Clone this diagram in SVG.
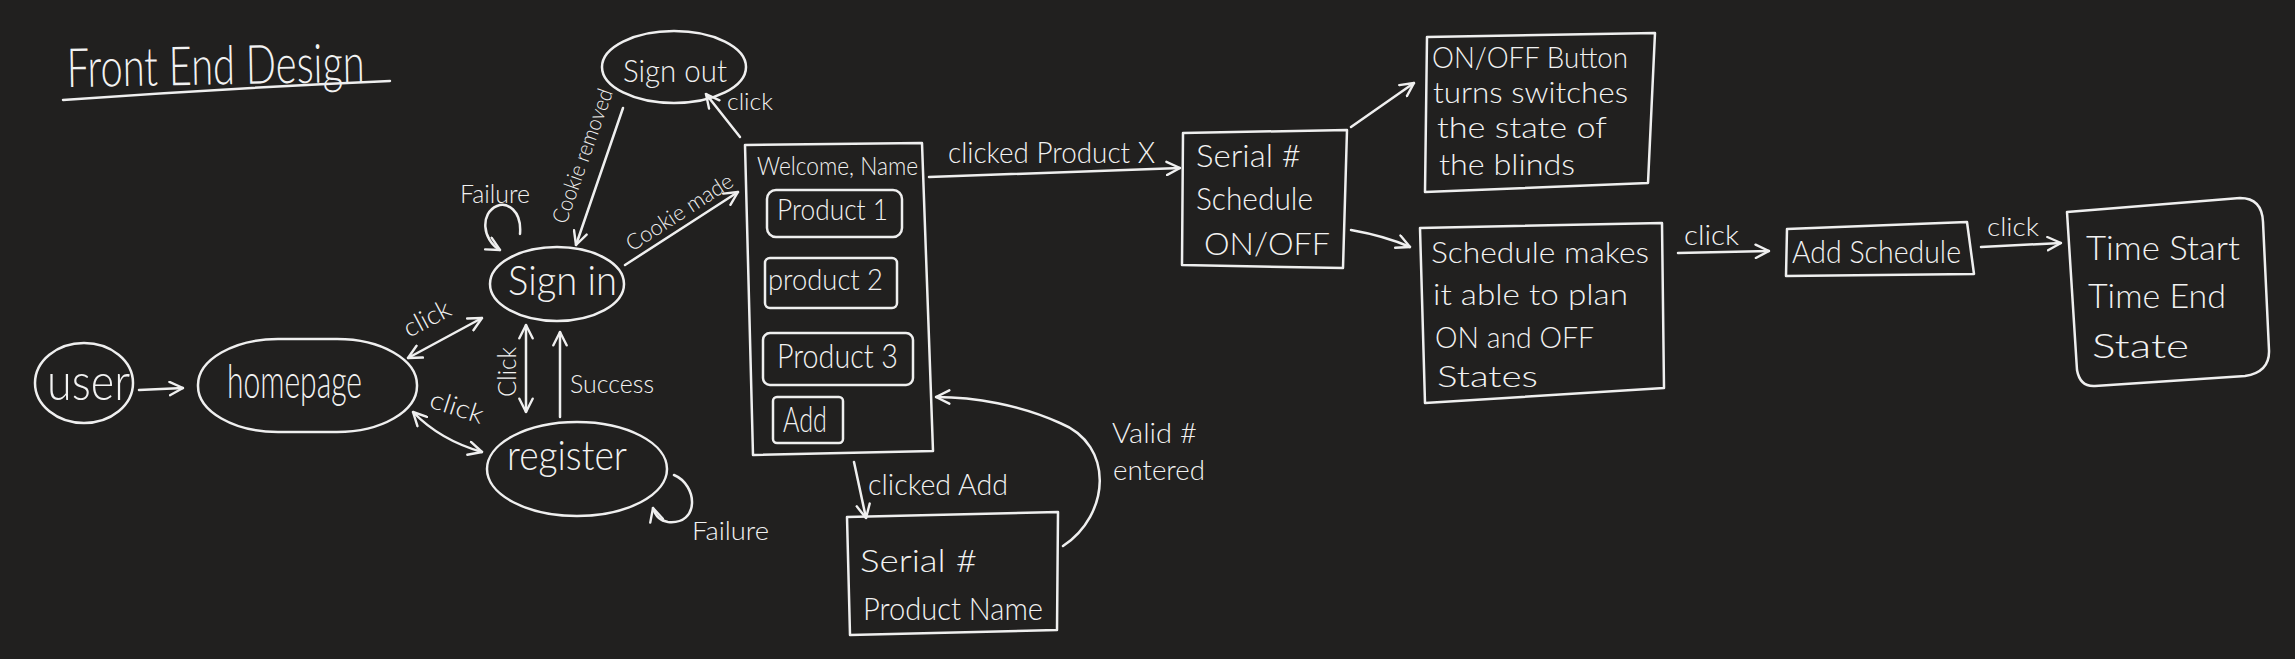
<svg xmlns="http://www.w3.org/2000/svg" width="2295" height="659" viewBox="0 0 2295 659">
<defs>
<style>
.bg{fill:#21201f}
.s{fill:none;stroke:#efefef;stroke-width:2.5;stroke-linecap:round;stroke-linejoin:round}
text{fill:#f2f2f2;font-family:Lato,"Liberation Sans",sans-serif;font-weight:300}
.c path{fill:none;stroke:#efefef;stroke-width:2.5;stroke-linecap:round}
</style>
<marker id="a" viewBox="0 0 12 12" refX="11" refY="6" markerWidth="16" markerHeight="16" markerUnits="userSpaceOnUse" orient="auto-start-reverse">
<path d="M1,1 L11,6 L1,11" fill="none" stroke="#efefef" stroke-width="1.8" stroke-linecap="round" stroke-linejoin="round"/>
</marker>
</defs>
<rect class="bg" x="0" y="0" width="2295" height="659"/>

<g id="title">
<text transform="translate(67,87) rotate(-1)" font-size="54" textLength="298" lengthAdjust="spacingAndGlyphs">Front End Design</text>
<path class="s" d="M63,100 Q230,88 390,81"/>
</g>

<g id="user">
<ellipse class="s" cx="84" cy="383" rx="49" ry="40"/>
<text x="47" y="400" font-size="52" textLength="83" lengthAdjust="spacingAndGlyphs">user</text>
</g>

<g id="homepage">
<rect class="s" x="198" y="339" width="219" height="93" rx="80" ry="46"/>
<text x="227" y="398" font-size="48" textLength="135" lengthAdjust="spacingAndGlyphs">homepage</text>
</g>

<g id="signin">
<ellipse class="s" cx="557" cy="284" rx="67" ry="37"/>
<text x="508" y="295" font-size="41" textLength="109" lengthAdjust="spacingAndGlyphs">Sign in</text>
</g>

<g id="signout">
<ellipse class="s" cx="674" cy="67" rx="72" ry="36"/>
<text x="623" y="82" font-size="31" textLength="104" lengthAdjust="spacingAndGlyphs">Sign out</text>
</g>

<g id="register">
<ellipse class="s" cx="577" cy="469" rx="90" ry="47"/>
<text x="507" y="470" font-size="42" textLength="120" lengthAdjust="spacingAndGlyphs">register</text>
</g>

<g id="welcome">
<polygon class="s" points="745,145 922,143 933,451 753,455"/>
<text x="757" y="175" font-size="25" textLength="161" lengthAdjust="spacingAndGlyphs">Welcome, Name</text>
<rect class="s" x="767" y="190" width="135" height="47" rx="9"/>
<text x="777" y="220" font-size="30" textLength="111" lengthAdjust="spacingAndGlyphs">Product 1</text>
<rect class="s" x="765" y="258" width="132" height="50" rx="5"/>
<text x="768" y="290" font-size="30" textLength="115" lengthAdjust="spacingAndGlyphs">product 2</text>
<rect class="s" x="763" y="333" width="150" height="52" rx="7"/>
<text x="777" y="368" font-size="33" textLength="121" lengthAdjust="spacingAndGlyphs">Product 3</text>
<rect class="s" x="773" y="397" width="70" height="46" rx="4"/>
<text x="783" y="432" font-size="35" textLength="44" lengthAdjust="spacingAndGlyphs">Add</text>
</g>

<g id="product">
<polygon class="s" points="1183,133 1347,130 1343,268 1182,265"/>
<text x="1196" y="167" font-size="32" textLength="105" lengthAdjust="spacingAndGlyphs">Serial #</text>
<text x="1196" y="210" font-size="32" textLength="117" lengthAdjust="spacingAndGlyphs">Schedule</text>
<text x="1204" y="255" font-size="32" textLength="126" lengthAdjust="spacingAndGlyphs">ON/OFF</text>
</g>

<g id="onoff">
<polygon class="s" points="1427,37 1655,33 1648,183 1425,192"/>
<text x="1432" y="68" font-size="30" textLength="196" lengthAdjust="spacingAndGlyphs">ON/OFF Button</text>
<text x="1433" y="103" font-size="30" textLength="195" lengthAdjust="spacingAndGlyphs">turns switches</text>
<text x="1437" y="138" font-size="30" textLength="170" lengthAdjust="spacingAndGlyphs">the state of</text>
<text x="1439" y="175" font-size="30" textLength="136" lengthAdjust="spacingAndGlyphs">the blinds</text>
</g>

<g id="schedule">
<polygon class="s" points="1420,228 1662,223 1664,388 1425,403"/>
<text x="1431" y="263" font-size="30" textLength="218" lengthAdjust="spacingAndGlyphs">Schedule makes</text>
<text x="1433" y="305" font-size="30" textLength="195" lengthAdjust="spacingAndGlyphs">it able to plan</text>
<text x="1435" y="348" font-size="30" textLength="159" lengthAdjust="spacingAndGlyphs">ON and OFF</text>
<text x="1437" y="387" font-size="30" textLength="101" lengthAdjust="spacingAndGlyphs">States</text>
</g>

<g id="addschedule">
<polygon class="s" points="1787,229 1967,222 1974,274 1786,276"/>
<text x="1792" y="263" font-size="32" textLength="169" lengthAdjust="spacingAndGlyphs">Add Schedule</text>
</g>

<g id="time">
<path class="s" d="M2067,212 L2240,198 Q2262,198 2263,222 L2269,350 Q2270,372 2245,376 L2095,386 Q2080,387 2077,370 Z"/>
<text x="2086" y="260" font-size="34" textLength="154" lengthAdjust="spacingAndGlyphs">Time Start</text>
<text x="2088" y="308" font-size="34" textLength="138" lengthAdjust="spacingAndGlyphs">Time End</text>
<text x="2092" y="358" font-size="34" textLength="97" lengthAdjust="spacingAndGlyphs">State</text>
</g>

<g id="addform">
<polygon class="s" points="847,517 1058,512 1057,630 850,635"/>
<text x="860" y="572" font-size="32" textLength="117" lengthAdjust="spacingAndGlyphs">Serial #</text>
<text x="863" y="620" font-size="32" textLength="180" lengthAdjust="spacingAndGlyphs">Product Name</text>
</g>

<g id="connectors" class="c">
<path d="M139,390 L183,388" marker-end="url(#a)"/>
<path d="M408,358 L482,318" marker-start="url(#a)" marker-end="url(#a)"/>
<path d="M413,412 Q440,440 482,452" marker-start="url(#a)" marker-end="url(#a)"/>
<path d="M526,325 L526,412" marker-start="url(#a)" marker-end="url(#a)"/>
<path d="M560,417 L560,332" marker-end="url(#a)"/>
<path d="M520,234 C522,210 507,202 497,206 C480,213 482,240 500,250" marker-end="url(#a)"/>
<path d="M674,475 C698,485 700,525 668,522 C660,521 655,515 653,508" marker-end="url(#a)"/>
<path d="M623,108 L576,245" marker-end="url(#a)"/>
<path d="M625,265 L738,192" marker-end="url(#a)"/>
<path d="M740,137 L706,94" marker-end="url(#a)"/>
<path d="M929,177 L1180,168" marker-end="url(#a)"/>
<path d="M1351,127 L1414,83" marker-end="url(#a)"/>
<path d="M1351,230 Q1385,236 1410,247" marker-end="url(#a)"/>
<path d="M1678,253 L1769,251" marker-end="url(#a)"/>
<path d="M1981,247 L2061,243" marker-end="url(#a)"/>
<path d="M854,462 L866,518" marker-end="url(#a)"/>
<path d="M1063,546 C1110,515 1115,445 1060,423 C1020,405 975,397 936,397" marker-end="url(#a)"/>
<text transform="translate(409,338) rotate(-28)" font-size="26" textLength="50" lengthAdjust="spacingAndGlyphs">click</text>
<text transform="translate(428,407) rotate(18)" font-size="26" textLength="55" lengthAdjust="spacingAndGlyphs">click</text>
<text transform="translate(516,397) rotate(-90)" font-size="26" textLength="50" lengthAdjust="spacingAndGlyphs">Click</text>
<text x="570" y="393" font-size="26" textLength="84" lengthAdjust="spacingAndGlyphs">Success</text>
<text x="460" y="203" font-size="26" textLength="70" lengthAdjust="spacingAndGlyphs">Failure</text>
<text x="692" y="540" font-size="26" textLength="77" lengthAdjust="spacingAndGlyphs">Failure</text>
<text transform="translate(566,225) rotate(-70.5)" font-size="22" textLength="141" lengthAdjust="spacingAndGlyphs">Cookie removed</text>
<text transform="translate(632,252) rotate(-33)" font-size="22" textLength="123" lengthAdjust="spacingAndGlyphs">Cookie made</text>
<text x="727" y="110" font-size="24" textLength="46" lengthAdjust="spacingAndGlyphs">click</text>
<text x="948" y="163" font-size="30" textLength="207" lengthAdjust="spacingAndGlyphs">clicked Product X</text>
<text x="868" y="495" font-size="30" textLength="140" lengthAdjust="spacingAndGlyphs">clicked Add</text>
<text x="1112" y="443" font-size="28" textLength="85" lengthAdjust="spacingAndGlyphs">Valid #</text>
<text x="1113" y="480" font-size="28" textLength="92" lengthAdjust="spacingAndGlyphs">entered</text>
<text x="1684" y="245" font-size="28" textLength="55" lengthAdjust="spacingAndGlyphs">click</text>
<text x="1987" y="236" font-size="26" textLength="52" lengthAdjust="spacingAndGlyphs">click</text>
</g>
</svg>
